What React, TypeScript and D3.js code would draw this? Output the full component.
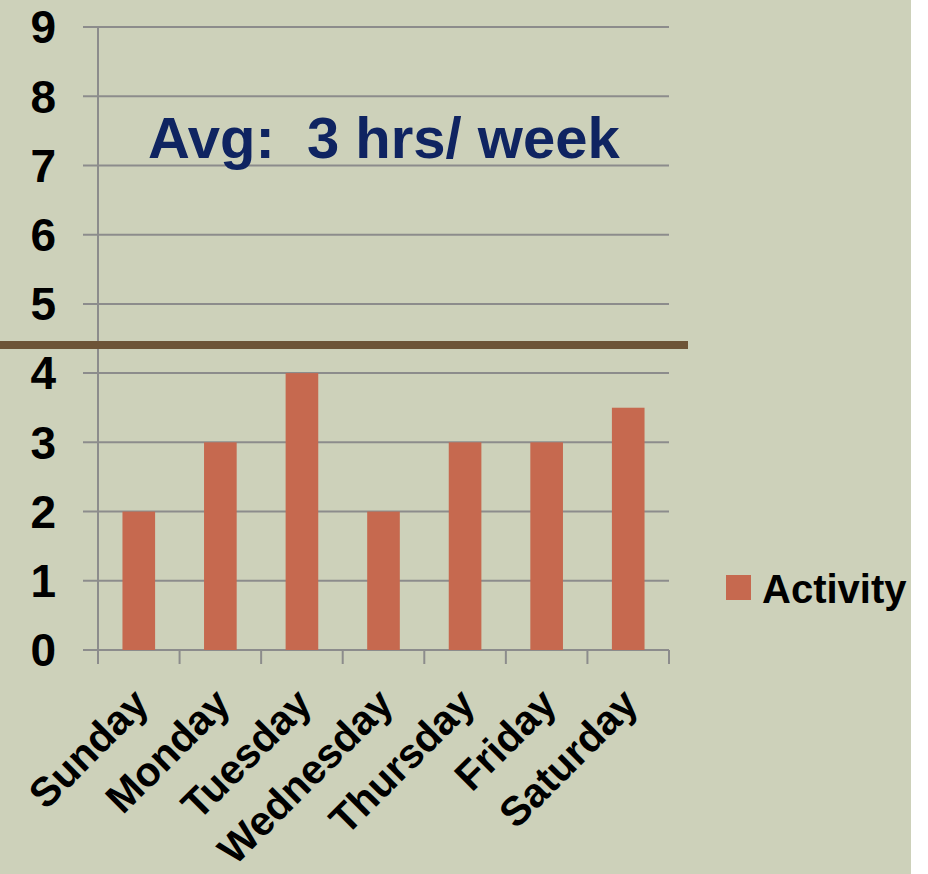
import React from "react";
import * as d3 from "d3";

// Weekly activity hours by day
const days = ["Sunday", "Monday", "Tuesday", "Wednesday", "Thursday", "Friday", "Saturday"];
const hours = [2, 3, 4, 2, 3, 3, 3.5];
const yTicks = [0, 1, 2, 3, 4, 5, 6, 7, 8, 9];
const seriesName = "Activity";
const headline = "Avg:  3 hrs/ week";

const W = 928;
const H = 874;
const FONT = "'Liberation Sans', Arial, sans-serif";

export default function App() {
  const x = d3
    .scaleBand<string>()
    .domain(days)
    .range([98, 669])
    .paddingInner(0.6)
    .paddingOuter(0.3);
  const y = d3.scaleLinear().domain([0, 9]).range([650, 27]);
  const step = x.step();
  const edges = d3.range(days.length + 1).map((i) => 98 + i * step);

  return (
    <svg
      width={W}
      height={H}
      style={{ position: "absolute", left: 0, top: 0, display: "block" }}
      fontFamily={FONT}
    >
      <rect x={0} y={0} width={W} height={H} fill="#ffffff" />
      <rect x={0} y={0} width={911} height={H} fill="#CDD1BA" />

      {/* horizontal gridlines */}
      {yTicks.map((t) => (
        <line
          key={"g" + t}
          x1={83}
          x2={669}
          y1={y(t)}
          y2={y(t)}
          stroke="#8C8C8C"
          strokeWidth={2}
        />
      ))}

      {/* y axis line */}
      <line x1={98} x2={98} y1={y(9)} y2={y(0)} stroke="#8C8C8C" strokeWidth={2} />

      {/* x axis ticks between categories */}
      {edges.map((ex, i) => (
        <line key={"t" + i} x1={ex} x2={ex} y1={y(0)} y2={y(0) + 14} stroke="#8C8C8C" strokeWidth={2} />
      ))}

      {/* bars */}
      {days.map((d, i) => (
        <rect
          key={d}
          x={x(d)}
          y={y(hours[i])}
          width={x.bandwidth()}
          height={y(0) - y(hours[i])}
          fill="#C6694F"
        />
      ))}

      {/* y tick labels */}
      {yTicks.map((t) => (
        <text
          key={"l" + t}
          x={56}
          y={y(t)}
          dy="0.355em"
          textAnchor="end"
          fontSize={46}
          fontWeight="bold"
          fill="#000"
        >
          {t}
        </text>
      ))}

      {/* rotated category labels */}
      {days.map((d) => {
        const cx = (x(d) as number) + x.bandwidth() / 2;
        return (
          <text
            key={"c" + d}
            transform={`translate(${cx + 12},${706}) rotate(-45)`}
            textAnchor="end"
            fontSize={41}
            fontWeight="bold"
            fill="#000"
          >
            {d}
          </text>
        );
      })}

      {/* separator rule */}
      <line x1={0} x2={688} y1={345} y2={345} stroke="#6D5437" strokeWidth={8} />

      {/* headline */}
      <text
        x={148}
        y={158}
        fontSize={58}
        fontWeight="bold"
        fill="#0F2461"
        style={{ whiteSpace: "pre" }}
      >
        {headline}
      </text>

      {/* legend */}
      <rect x={726} y={575} width={25} height={25} fill="#C6694F" />
      <text x={762} y={603} fontSize={40} fontWeight="bold" fill="#000">
        {seriesName}
      </text>
    </svg>
  );
}
